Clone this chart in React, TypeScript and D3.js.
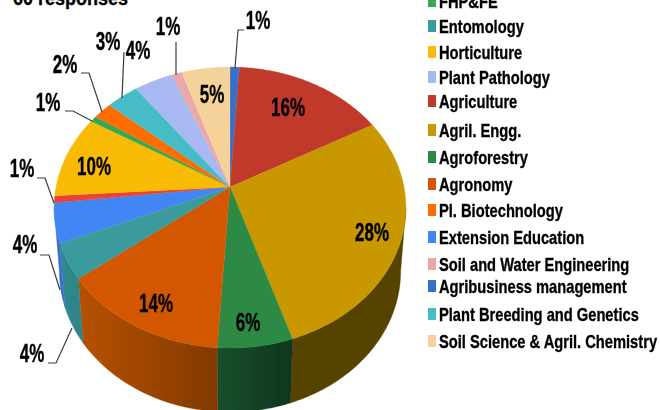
import * as d3 from 'd3';

const categories = [
  'Agribusiness management', 'Agriculture', 'Agril. Engg.', 'Agroforestry', 'Agronomy',
  'Entomology', 'Extension Education', '', 'Horticulture', 'FHP&FE', 'Pl. Biotechnology',
  'Plant Breeding and Genetics', 'Plant Pathology', 'Soil and Water Engineering',
  'Soil Science & Agril. Chemistry',
];
// slice sizes, the printed labels are rounded
const values = [1, 16, 28, 6, 13.6, 4.1, 4.5, 0.8, 9.6, 0.7, 2, 3.4, 4.1, 1.1, 5.1];
const colors = [
  '#3a6fc8', '#c0392b', '#c99700', '#2d8a45', '#d25700', '#3a9a9c', '#4285f4', '#ea4335',
  '#f9bb04', '#34a853', '#ff6d01', '#46bdc6', '#a8b8f3', '#eaa9a9', '#f6d29b',
];
// wall shading, right and left end of each visible side
const wallColors: Record<string, [string, string]> = {
  'Agril. Engg.': ['#574300', '#574300'],
  Agroforestry: ['#0f361c', '#184f2b'],
  Agronomy: ['#813a00', '#b85000'],
  Entomology: ['#2f8486', '#2f8a8c'],
  'Extension Education': ['#3a6fd0', '#3a6fd0'],
};

const legendOrder = [
  'FHP&FE', 'Entomology', 'Horticulture', 'Plant Pathology', 'Agriculture', 'Agril. Engg.',
  'Agroforestry', 'Agronomy', 'Pl. Biotechnology', 'Extension Education',
  'Soil and Water Engineering', 'Agribusiness management', 'Plant Breeding and Genetics',
  'Soil Science & Agril. Chemistry',
];
const legendY = [1, 26, 52, 77, 101, 130, 157, 184, 210, 237, 264, 286, 314, 341];

const labels = [
  { text: '1%', x: 258, y: 20 }, { text: '16%', x: 288, y: 107 }, { text: '28%', x: 372, y: 232 },
  { text: '6%', x: 248, y: 322 }, { text: '14%', x: 156, y: 303 }, { text: '4%', x: 32, y: 353 },
  { text: '4%', x: 25, y: 244 }, { text: '1%', x: 22, y: 168 }, { text: '10%', x: 94, y: 166 },
  { text: '1%', x: 48, y: 102 }, { text: '2%', x: 65, y: 64 }, { text: '3%', x: 108, y: 41 },
  { text: '4%', x: 138, y: 50 }, { text: '1%', x: 168, y: 26 }, { text: '5%', x: 212, y: 94 },
];
const leaders = [
  [[244, 30], [238, 30], [235, 68]],
  [[176, 42], [176, 75]],
  [[124, 52], [122, 98]],
  [[81, 73], [89, 73], [102, 112]],
  [[65, 111], [73, 111], [92, 121]],
  [[37, 178], [45, 178], [54, 203]],
  [[40, 255], [49, 255], [60, 290]],
  [[48, 363], [56, 363], [72, 328]],
];

const width = 660;
const height = 410;
const cx = 230;
const cy = 187;
const rx = 174;
const ry = 137.5;
const tilt = 0.146;
const depth = 64;
const bottomScale = 0.97;
const font = '"Liberation Sans", Arial, sans-serif';

// pie angle to screen, circle seen in perspective
const project = (a: number) => {
  const d = 1 + tilt * Math.cos(a);
  return [cx + (rx * Math.sin(a)) / d, cy - (ry * Math.cos(a)) / d] as [number, number];
};
const projectBottom = (a: number) => {
  const [x, y] = project(a);
  return [cx + (x - cx) * bottomScale, y + depth] as [number, number];
};
const sample = (a0: number, a1: number) => {
  const n = Math.max(2, Math.ceil((a1 - a0) * 60));
  return d3.range(n + 1).map((i) => a0 + ((a1 - a0) * i) / n);
};

const line = d3.line<[number, number]>();
const wallStart = Math.PI - Math.acos(tilt);
const wallEnd = Math.PI + Math.acos(tilt);

const arcs = d3
  .pie<number>()
  .sort(null)
  .startAngle(0)
  .endAngle(2 * Math.PI)(values);

export default function App() {
  const walls = arcs
    .map((d, i) => ({
      name: categories[i],
      a0: Math.max(d.startAngle, wallStart),
      a1: Math.min(d.endAngle, wallEnd),
    }))
    .filter((d) => d.a1 > d.a0);

  return (
    <svg
      width={width}
      height={height}
      viewBox={`0 0 ${width} ${height}`}
      style={{ position: 'fixed', left: 0, top: 0, background: '#fff' }}
    >
      <defs>
        <filter id="soft" x="-5%" y="-5%" width="110%" height="110%">
          <feGaussianBlur stdDeviation="0.4" />
        </filter>
        {walls.map((w) => {
          const xs = sample(w.a0, w.a1).map((a) => project(a)[0]);
          const [c0, c1] = wallColors[w.name] || ['#555', '#555'];
          return (
            <linearGradient
              key={w.name}
              id={`wall-${categories.indexOf(w.name)}`}
              gradientUnits="userSpaceOnUse"
              x1={d3.max(xs)}
              x2={d3.min(xs)}
              y1={0}
              y2={0}
            >
              <stop offset="0" stopColor={c0} />
              <stop offset="1" stopColor={c1} />
            </linearGradient>
          );
        })}
      </defs>

      <text
        transform="translate(13,5) scale(0.9,1)"
        fontFamily={font}
        fontWeight="bold"
        fontSize={20}
        fill="#000"
        stroke="#000"
        strokeWidth={0.3}
      >
        60 responses
      </text>

      {walls.map((w) => {
        const angles = sample(w.a0, w.a1);
        const pts = [...angles.map(project), ...angles.slice().reverse().map(projectBottom)];
        return (
          <path
            key={w.name}
            d={`${line(pts)}Z`}
            fill={`url(#wall-${categories.indexOf(w.name)})`}
            stroke={`url(#wall-${categories.indexOf(w.name)})`}
            strokeWidth={0.4}
          />
        );
      })}

      {arcs.map((d, i) => {
        const pts: [number, number][] = [[cx, cy], ...sample(d.startAngle, d.endAngle).map(project)];
        return <path key={i} d={`${line(pts)}Z`} fill={colors[i]} stroke={colors[i]} strokeWidth={0.3} />;
      })}

      {leaders.map((pts, i) => (
        <path
          key={i}
          d={line(pts as [number, number][]) || ''}
          fill="none"
          stroke="#3c3c3c"
          strokeWidth={1.2}
        />
      ))}

      <g filter="url(#soft)">
        {labels.map((l, i) => (
          <text
            key={i}
            transform={`translate(${l.x},${l.y + 9}) scale(0.68,1)`}
            textAnchor="middle"
            fontFamily={font}
            fontWeight="bold"
            fontSize={25}
            fill="#000"
            stroke="#000"
            strokeWidth={0.4}
          >
            {l.text}
          </text>
        ))}
      </g>

      {legendOrder.map((name, i) => (
        <g key={name}>
          <rect
            x={428}
            y={legendY[i] - 6}
            width={8}
            height={12}
            fill={colors[categories.indexOf(name)]}
          />
          <text
            transform={`translate(439,${legendY[i] + 6.5}) scale(0.773,1)`}
            fontFamily={font}
            fontWeight="bold"
            fontSize={19}
            fill="#000"
            stroke="#000"
            strokeWidth={0.35}
            filter="url(#soft)"
          >
            {name}
          </text>
        </g>
      ))}
    </svg>
  );
}
